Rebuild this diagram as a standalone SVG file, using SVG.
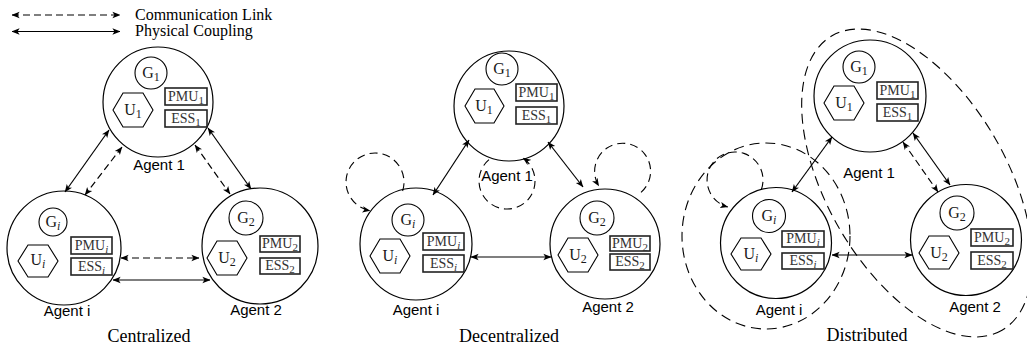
<svg xmlns="http://www.w3.org/2000/svg" width="1027" height="352" viewBox="0 0 1027 352">
<defs>
<style>
.ag{fill:none;stroke:#000;stroke-width:1.2}
.gc{fill:none;stroke:#000;stroke-width:1.1}
.hx{fill:none;stroke:#000;stroke-width:1.1}
.bx{fill:#fff;stroke:#222;stroke-width:1.6}
.sv{font-family:"Liberation Serif","Times New Roman",serif;fill:#1a1a1a}
.gt{font-size:16px;text-anchor:middle}
.bt{font-size:14px;text-anchor:middle;fill:#333}
.sub{font-size:12px}
.bt .sub{font-size:11px}
.it{font-style:italic}
.lab{font-family:"Liberation Sans",Arial,sans-serif;font-size:15px;text-anchor:middle;fill:#000}
.ttl{font-family:"Liberation Serif","Times New Roman",serif;font-size:18px;text-anchor:middle;fill:#000}
.leg{font-family:"Liberation Serif","Times New Roman",serif;font-size:16px;fill:#000}
.sl{fill:none;stroke:#000;stroke-width:1.2;marker-start:url(#ah);marker-end:url(#ah)}
.dl{fill:none;stroke:#000;stroke-width:1.2;stroke-dasharray:7 4;marker-start:url(#ah);marker-end:url(#ah)}
.lp{fill:none;stroke:#000;stroke-width:1.1;stroke-dasharray:8 5;marker-end:url(#ah)}
.el{fill:none;stroke:#000;stroke-width:1.1;stroke-dasharray:10 6}
</style>
<marker id="ah" viewBox="0 0 10 10" refX="9.5" refY="5" markerWidth="8" markerHeight="8" markerUnits="userSpaceOnUse" orient="auto-start-reverse">
<path d="M0,1 L10,5 L0,9 L2.5,5 z" fill="#000"/>
</marker>
</defs>
<rect width="1027" height="352" fill="#fff"/>

<g id="legend">
<line class="dl" x1="12" y1="15" x2="120" y2="15"/>
<line class="sl" x1="12" y1="31.5" x2="120" y2="31.5"/>
<text class="leg" x="135" y="20">Communication Link</text>
<text class="leg" x="135" y="36">Physical Coupling</text>
</g>

<g id="clusters">
<ellipse class="el" cx="766" cy="236" rx="84" ry="93"/>
<ellipse class="el" cx="917" cy="183" rx="170" ry="90" transform="rotate(60 917 183)"/>
</g>

<!-- Centralized -->
<g id="c-agent1" transform="translate(158,102)">
<circle class="ag" r="55"/>
<circle class="gc" cx="-7" cy="-29" r="16"/>
<text class="sv gt" x="-7" y="-24">G<tspan class="sub" dy="3">1</tspan></text>
<polygon class="hx" points="-45,8 -35,-9 -15,-9 -5,8 -15,25 -35,25"/>
<text class="sv gt" x="-25" y="13">U<tspan class="sub" dy="3">1</tspan></text>
<rect class="bx" x="7" y="-14" width="42" height="17"/>
<text class="sv bt" x="28" y="-1.5">PMU<tspan class="sub" dy="3">1</tspan></text>
<rect class="bx" x="7" y="8" width="42" height="17"/>
<text class="sv bt" x="28" y="20.5">ESS<tspan class="sub" dy="3">1</tspan></text>
</g>
<g id="c-agenti" transform="translate(64,248)">
<circle class="ag" r="57"/>
<circle class="gc" cx="-11" cy="-26" r="14"/>
<text class="sv gt" x="-11" y="-21">G<tspan class="sub it" dy="3">i</tspan></text>
<polygon class="hx" points="-46,13 -36,-3 -16,-3 -6,13 -16,29 -36,29"/>
<text class="sv gt" x="-26" y="17">U<tspan class="sub it" dy="3">i</tspan></text>
<rect class="bx" x="7" y="-11" width="41" height="17"/>
<text class="sv bt" x="27.5" y="1.5">PMU<tspan class="sub it" dy="3">i</tspan></text>
<rect class="bx" x="7" y="10" width="41" height="17"/>
<text class="sv bt" x="27.5" y="22.5">ESS<tspan class="sub it" dy="3">i</tspan></text>
</g>
<g id="c-agent2" transform="translate(260,246)">
<circle class="ag" r="58"/>
<circle class="gc" cx="-14" cy="-28" r="17"/>
<text class="sv gt" x="-14" y="-23">G<tspan class="sub" dy="3">2</tspan></text>
<polygon class="hx" points="-53,12 -43,-5 -23,-5 -13,12 -23,29 -43,29"/>
<text class="sv gt" x="-33" y="17">U<tspan class="sub" dy="3">2</tspan></text>
<rect class="bx" x="0" y="-10" width="40" height="16"/>
<text class="sv bt" x="20" y="1.5">PMU<tspan class="sub" dy="3">2</tspan></text>
<rect class="bx" x="0" y="12" width="40" height="16"/>
<text class="sv bt" x="20" y="23.5">ESS<tspan class="sub" dy="3">2</tspan></text>
</g>

<!-- Decentralized -->
<g id="d-agent1" transform="translate(509,106)">
<circle class="ag" r="55"/>
<circle class="gc" cx="-7" cy="-37" r="16"/>
<text class="sv gt" x="-7" y="-32">G<tspan class="sub" dy="3">1</tspan></text>
<polygon class="hx" points="-44,0 -34,-17 -15,-17 -5,0 -15,17 -34,17"/>
<text class="sv gt" x="-25" y="5">U<tspan class="sub" dy="3">1</tspan></text>
<rect class="bx" x="7" y="-22" width="41" height="17"/>
<text class="sv bt" x="27.5" y="-9.5">PMU<tspan class="sub" dy="3">1</tspan></text>
<rect class="bx" x="7" y="1" width="41" height="17"/>
<text class="sv bt" x="27.5" y="13.5">ESS<tspan class="sub" dy="3">1</tspan></text>
</g>
<g id="d-agenti" transform="translate(416,244)">
<circle class="ag" r="56"/>
<circle class="gc" cx="-8" cy="-24" r="16"/>
<text class="sv gt" x="-8" y="-19">G<tspan class="sub it" dy="3">i</tspan></text>
<polygon class="hx" points="-46,12 -36,-5 -16,-5 -6,12 -16,29 -36,29"/>
<text class="sv gt" x="-26" y="17">U<tspan class="sub it" dy="3">i</tspan></text>
<rect class="bx" x="7" y="-11" width="41" height="17"/>
<text class="sv bt" x="27.5" y="1.5">PMU<tspan class="sub it" dy="3">i</tspan></text>
<rect class="bx" x="7" y="11" width="41" height="17"/>
<text class="sv bt" x="27.5" y="23.5">ESS<tspan class="sub it" dy="3">i</tspan></text>
</g>
<g id="d-agent2" transform="translate(605,244)">
<circle class="ag" r="55"/>
<circle class="gc" cx="-8" cy="-26" r="17"/>
<text class="sv gt" x="-8" y="-21">G<tspan class="sub" dy="3">2</tspan></text>
<polygon class="hx" points="-47,11 -37,-6 -17,-6 -7,11 -17,28 -37,28"/>
<text class="sv gt" x="-27" y="16">U<tspan class="sub" dy="3">2</tspan></text>
<rect class="bx" x="5" y="-8" width="40" height="15"/>
<text class="sv bt" x="25" y="3.5">PMU<tspan class="sub" dy="3">2</tspan></text>
<rect class="bx" x="5" y="10" width="40" height="16"/>
<text class="sv bt" x="25" y="22">ESS<tspan class="sub" dy="3">2</tspan></text>
</g>

<!-- Distributed -->
<g id="s-agent1" transform="translate(870,96)">
<circle class="ag" r="56"/>
<circle class="gc" cx="-11" cy="-29" r="16"/>
<text class="sv gt" x="-11" y="-24">G<tspan class="sub" dy="3">1</tspan></text>
<polygon class="hx" points="-46,7 -36,-10 -16,-10 -6,7 -16,24 -36,24"/>
<text class="sv gt" x="-26" y="12">U<tspan class="sub" dy="3">1</tspan></text>
<rect class="bx" x="7" y="-14" width="41" height="17"/>
<text class="sv bt" x="27.5" y="-1.5">PMU<tspan class="sub" dy="3">1</tspan></text>
<rect class="bx" x="7" y="8" width="41" height="17"/>
<text class="sv bt" x="27.5" y="20.5">ESS<tspan class="sub" dy="3">1</tspan></text>
</g>
<g id="s-agenti" transform="translate(776,243)">
<circle class="ag" r="55.5"/>
<circle class="gc" cx="-7" cy="-27" r="16.5"/>
<text class="sv gt" x="-7" y="-22">G<tspan class="sub it" dy="3">i</tspan></text>
<polygon class="hx" points="-45,11 -35,-5 -15,-5 -5,11 -15,27 -35,27"/>
<text class="sv gt" x="-25" y="16">U<tspan class="sub it" dy="3">i</tspan></text>
<rect class="bx" x="6" y="-12" width="42" height="16"/>
<text class="sv bt" x="27" y="0">PMU<tspan class="sub it" dy="3">i</tspan></text>
<rect class="bx" x="6" y="10" width="42" height="16"/>
<text class="sv bt" x="27" y="22">ESS<tspan class="sub it" dy="3">i</tspan></text>
</g>
<g id="s-agent2" transform="translate(966,240)">
<circle class="ag" r="55.5"/>
<circle class="gc" cx="-9" cy="-27" r="17"/>
<text class="sv gt" x="-9" y="-22">G<tspan class="sub" dy="3">2</tspan></text>
<polygon class="hx" points="-47,13 -37,-4 -17,-4 -7,13 -17,29 -37,29"/>
<text class="sv gt" x="-27" y="18">U<tspan class="sub" dy="3">2</tspan></text>
<rect class="bx" x="5" y="-11" width="42" height="17"/>
<text class="sv bt" x="26" y="1.5">PMU<tspan class="sub" dy="3">2</tspan></text>
<rect class="bx" x="5" y="12" width="42" height="17"/>
<text class="sv bt" x="26" y="24.5">ESS<tspan class="sub" dy="3">2</tspan></text>
</g>

<g id="connectors">
<!-- centralized -->
<line class="sl" x1="109" y1="130" x2="65" y2="192"/>
<line class="dl" x1="122" y1="147" x2="85" y2="195"/>
<line class="sl" x1="208" y1="128" x2="251" y2="189"/>
<line class="dl" x1="195" y1="145" x2="230" y2="194"/>
<line class="dl" x1="121" y1="258" x2="199" y2="258"/>
<line class="sl" x1="113" y1="280" x2="210" y2="280"/>
<!-- decentralized -->
<line class="sl" x1="469" y1="140" x2="433" y2="195"/>
<line class="sl" x1="548" y1="142" x2="583" y2="187"/>
<line class="sl" x1="471" y1="257" x2="551" y2="257"/>
<path class="lp" d="M489,159.6 A28,28 0 1 0 523.1,158.1"/>
<path class="lp" d="M402.6,191 A29,29 0 1 0 370,210.6"/>
<path class="lp" d="M641,192.4 A28,28 0 1 0 598.8,186"/>
<!-- distributed -->
<line class="sl" x1="832" y1="137" x2="792" y2="192"/>
<line class="sl" x1="913" y1="133" x2="950" y2="185"/>
<line class="dl" x1="903" y1="142" x2="938" y2="192"/>
<line class="sl" x1="832" y1="255" x2="912" y2="255"/>
<path class="lp" d="M761.3,189.6 A28,28 0 1 0 727.8,207"/>
</g>

<g id="labels">
<text class="lab" x="159" y="170">Agent 1</text>
<text class="lab" x="67" y="316">Agent i</text>
<text class="lab" x="256" y="315">Agent 2</text>
<text class="lab" x="507" y="181">Agent 1</text>
<text class="lab" x="416" y="315">Agent i</text>
<text class="lab" x="608" y="312">Agent 2</text>
<text class="lab" x="869" y="178">Agent 1</text>
<text class="lab" x="779" y="315">Agent i</text>
<text class="lab" x="975" y="312">Agent 2</text>
<text class="ttl" x="149" y="342">Centralized</text>
<text class="ttl" x="509" y="342">Decentralized</text>
<text class="ttl" x="867" y="341">Distributed</text>
</g>
</svg>
